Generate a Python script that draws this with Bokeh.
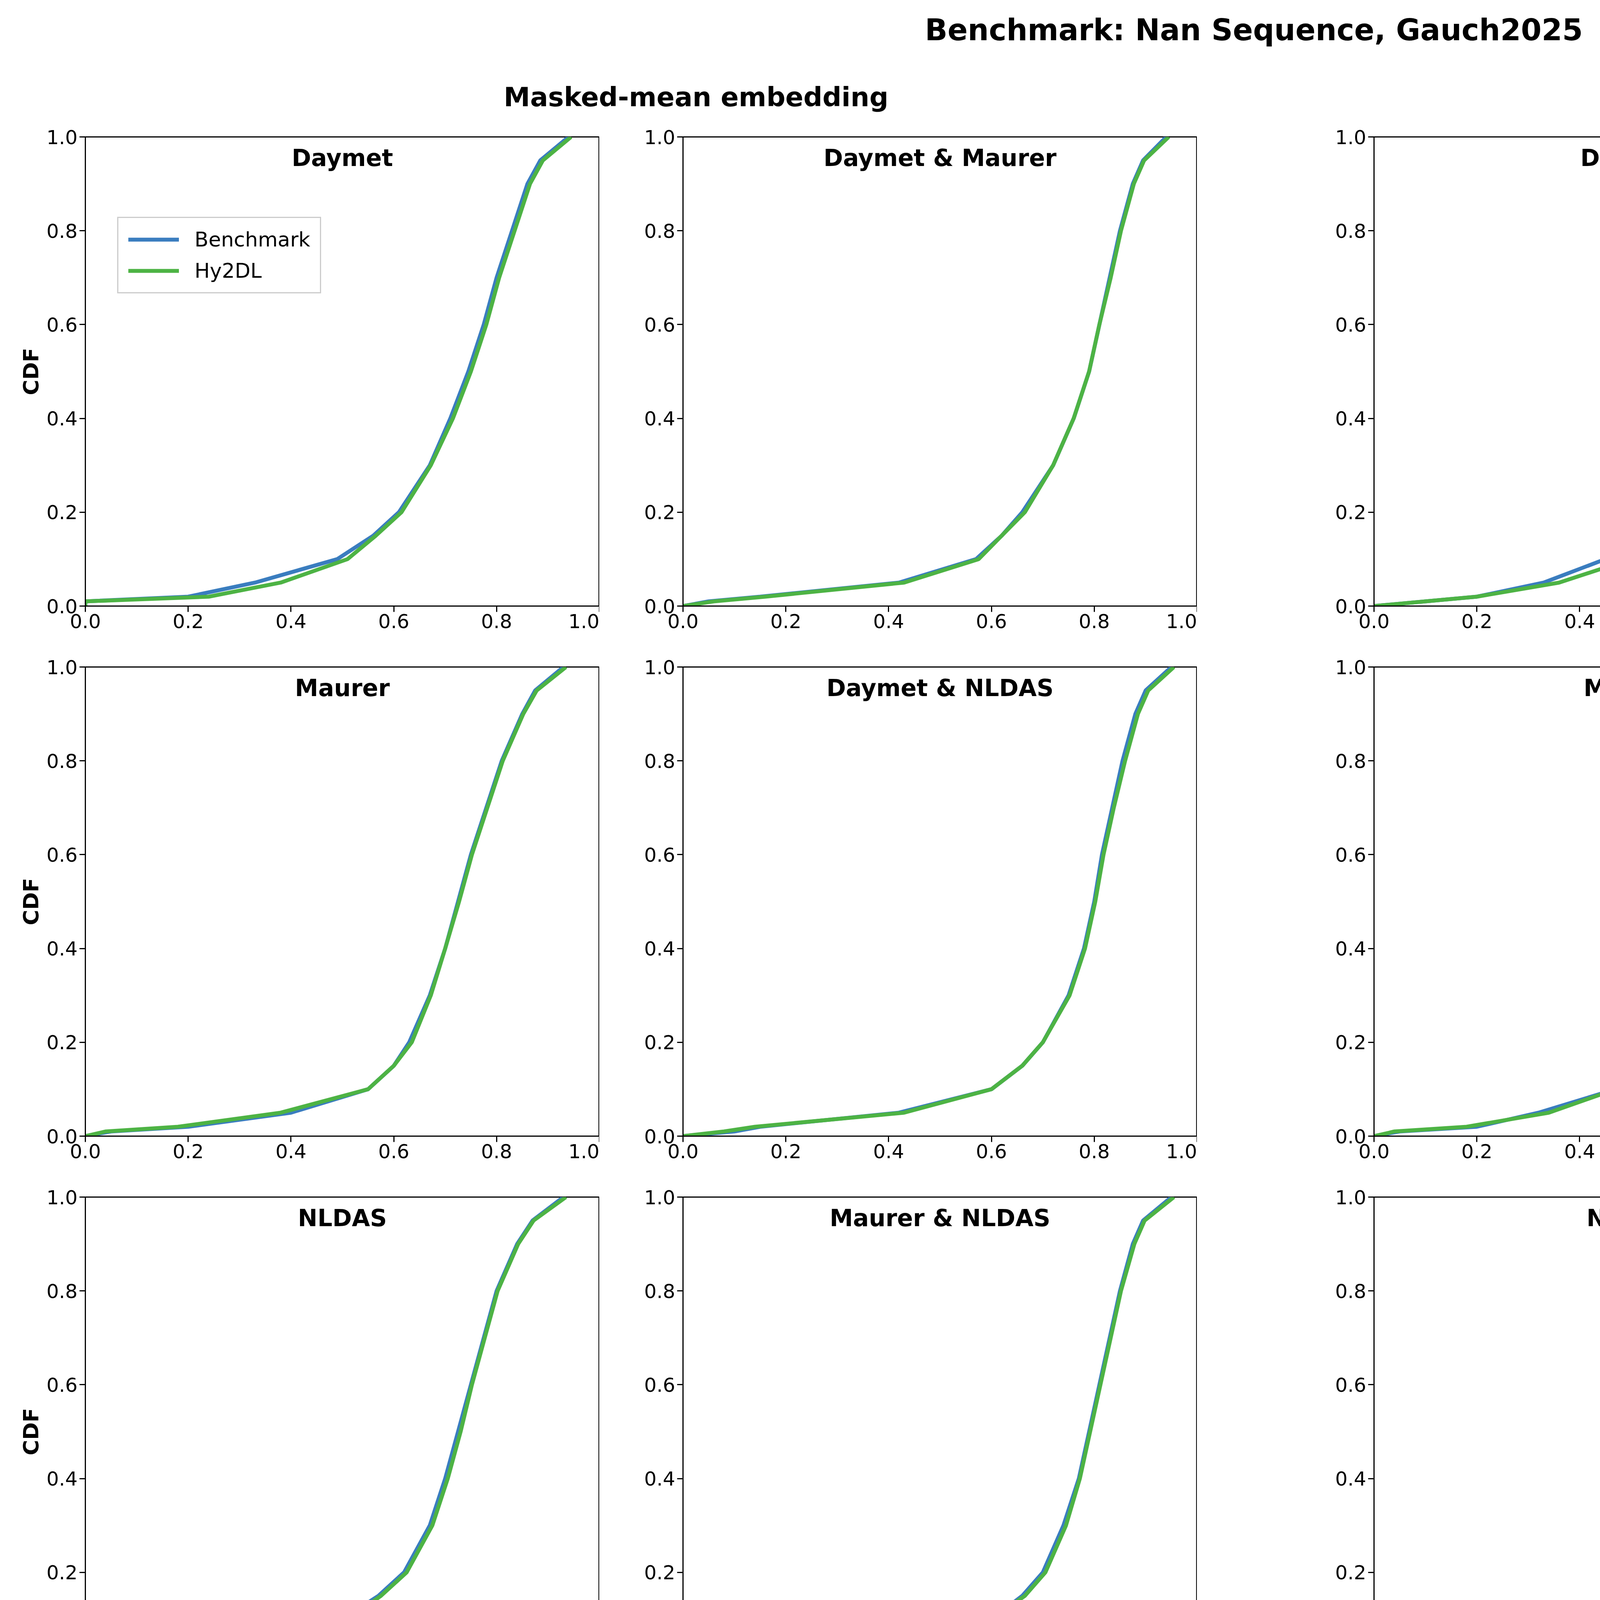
from bokeh.plotting import figure
from bokeh.models import FixedTicker, NumeralTickFormatter, Label, Legend, LegendItem, Div, Range1d
from bokeh.layouts import column, row
from bokeh.embed import file_html
from bokeh.resources import INLINE

# CDF levels shared by all curves, NSE quantiles
cdf = [0.0, 0.01, 0.02, 0.05, 0.1, 0.15, 0.2, 0.3, 0.4, 0.5, 0.6, 0.7, 0.8, 0.9, 0.95, 1.0]

mm_daymet_bench = [0.0, 0.0, 0.2, 0.33, 0.49, 0.56, 0.61, 0.67, 0.71, 0.745, 0.775, 0.80, 0.83, 0.86, 0.885, 0.94]
mm_daymet_hy2dl = [0.0, 0.0, 0.24, 0.38, 0.51, 0.565, 0.615, 0.672, 0.715, 0.75, 0.78, 0.805, 0.835, 0.865, 0.89, 0.945]
mm_dm_bench = [0.0, 0.05, 0.15, 0.42, 0.57, 0.62, 0.66, 0.72, 0.76, 0.79, 0.81, 0.83, 0.85, 0.875, 0.895, 0.94]
mm_dm_hy2dl = [0.0, 0.06, 0.16, 0.43, 0.575, 0.62, 0.665, 0.72, 0.76, 0.79, 0.81, 0.832, 0.852, 0.877, 0.897, 0.945]
mm_maurer_bench = [0.0, 0.05, 0.2, 0.4, 0.55, 0.6, 0.63, 0.67, 0.70, 0.725, 0.75, 0.78, 0.81, 0.85, 0.875, 0.93]
mm_maurer_hy2dl = [0.0, 0.04, 0.18, 0.38, 0.55, 0.6, 0.635, 0.672, 0.70, 0.727, 0.752, 0.782, 0.812, 0.852, 0.878, 0.935]
mm_dn_bench = [0.0, 0.1, 0.15, 0.42, 0.6, 0.66, 0.7, 0.75, 0.78, 0.80, 0.815, 0.835, 0.855, 0.88, 0.90, 0.95]
mm_dn_hy2dl = [0.0, 0.08, 0.14, 0.43, 0.6, 0.66, 0.7, 0.752, 0.782, 0.802, 0.818, 0.838, 0.86, 0.885, 0.905, 0.955]
mm_nldas_bench = [0.0, 0.08, 0.2, 0.37, 0.5, 0.57, 0.62, 0.67, 0.70, 0.725, 0.75, 0.775, 0.80, 0.84, 0.87, 0.93]
mm_nldas_hy2dl = [0.0, 0.07, 0.19, 0.36, 0.51, 0.575, 0.625, 0.675, 0.705, 0.73, 0.752, 0.777, 0.802, 0.842, 0.872, 0.935]
mm_mn_bench = [0.0, 0.1, 0.22, 0.45, 0.6, 0.66, 0.70, 0.74, 0.77, 0.79, 0.81, 0.83, 0.85, 0.875, 0.895, 0.95]
mm_mn_hy2dl = [0.0, 0.09, 0.21, 0.44, 0.6, 0.665, 0.705, 0.745, 0.772, 0.792, 0.812, 0.832, 0.852, 0.878, 0.898, 0.955]

ir_daymet_bench = [0.0, 0.1, 0.2, 0.33, 0.45, 0.55, 0.60, 0.66, 0.69, 0.71, 0.73, 0.755, 0.78, 0.82, 0.85, 0.93]
ir_daymet_hy2dl = [0.0, 0.1, 0.2, 0.36, 0.5, 0.57, 0.615, 0.67, 0.70, 0.72, 0.74, 0.762, 0.785, 0.825, 0.855, 0.94]
ir_dm_bench = [0.0, 0.1, 0.2, 0.4, 0.58, 0.65, 0.69, 0.74, 0.77, 0.79, 0.81, 0.83, 0.855, 0.88, 0.90, 0.95]
ir_dm_hy2dl = [0.0, 0.12, 0.2, 0.41, 0.57, 0.645, 0.69, 0.742, 0.772, 0.792, 0.812, 0.832, 0.857, 0.882, 0.902, 0.955]
ir_maurer_bench = [0.0, 0.05, 0.2, 0.32, 0.47, 0.55, 0.60, 0.65, 0.68, 0.705, 0.73, 0.755, 0.78, 0.82, 0.855, 0.93]
ir_maurer_hy2dl = [0.0, 0.04, 0.18, 0.34, 0.47, 0.54, 0.595, 0.648, 0.68, 0.707, 0.732, 0.757, 0.783, 0.823, 0.857, 0.935]
ir_dn_bench = [0.0, 0.1, 0.25, 0.45, 0.6, 0.66, 0.70, 0.74, 0.765, 0.785, 0.80, 0.82, 0.84, 0.87, 0.89, 0.95]
ir_dn_hy2dl = [0.0, 0.08, 0.24, 0.44, 0.6, 0.66, 0.70, 0.742, 0.767, 0.787, 0.802, 0.822, 0.842, 0.872, 0.892, 0.955]
ir_nldas_bench = [0.0, 0.05, 0.2, 0.35, 0.5, 0.57, 0.61, 0.66, 0.69, 0.71, 0.73, 0.75, 0.78, 0.82, 0.85, 0.93]
ir_nldas_hy2dl = [0.0, 0.04, 0.19, 0.34, 0.5, 0.57, 0.61, 0.662, 0.69, 0.712, 0.732, 0.752, 0.782, 0.825, 0.855, 0.935]
ir_mn_bench = [0.0, 0.08, 0.25, 0.42, 0.57, 0.63, 0.66, 0.71, 0.74, 0.76, 0.78, 0.80, 0.83, 0.86, 0.885, 0.95]
ir_mn_hy2dl = [0.0, 0.06, 0.24, 0.42, 0.56, 0.62, 0.655, 0.708, 0.74, 0.762, 0.782, 0.802, 0.832, 0.862, 0.887, 0.955]

panels = [
    [("Daymet", mm_daymet_bench, mm_daymet_hy2dl), ("Daymet & Maurer", mm_dm_bench, mm_dm_hy2dl),
     ("Daymet", ir_daymet_bench, ir_daymet_hy2dl), ("Daymet & Maurer", ir_dm_bench, ir_dm_hy2dl)],
    [("Maurer", mm_maurer_bench, mm_maurer_hy2dl), ("Daymet & NLDAS", mm_dn_bench, mm_dn_hy2dl),
     ("Maurer", ir_maurer_bench, ir_maurer_hy2dl), ("Daymet & NLDAS", ir_dn_bench, ir_dn_hy2dl)],
    [("NLDAS", mm_nldas_bench, mm_nldas_hy2dl), ("Maurer & NLDAS", mm_mn_bench, mm_mn_hy2dl),
     ("NLDAS", ir_nldas_bench, ir_nldas_hy2dl), ("Maurer & NLDAS", ir_mn_bench, ir_mn_hy2dl)],
]

BLUE = "#3a7dbf"
GREEN = "#4db344"
FONT = "DejaVu Sans"
FW, FH = 1316, 1201
lefts = [218, 214, 453, 214]

rows = []
for r, prow in enumerate(panels):
    figs = []
    for c, (name, bench, hy) in enumerate(prow):
        last = r == 2
        p = figure(frame_width=FW, frame_height=FH, output_backend="svg", toolbar_location=None,
                   x_range=Range1d(0, 1), y_range=Range1d(0, 1),
                   min_border_left=lefts[c], min_border_right=(60 if c == 3 else 0),
                   min_border_top=20, min_border_bottom=(190 if last else 136))
        p.xgrid.visible = False
        p.ygrid.visible = False
        p.outline_line_color = "black"
        p.outline_line_width = 3
        for ax in (p.xaxis[0], p.yaxis[0]):
            ax.ticker = FixedTicker(ticks=[0, 0.2, 0.4, 0.6, 0.8, 1.0])
            ax.formatter = NumeralTickFormatter(format="0.0")
            ax.major_label_text_font = FONT
            ax.major_label_text_font_size = "50px"
            ax.major_label_text_color = "black"
            ax.major_tick_out = 15
            ax.major_tick_in = 0
            ax.major_tick_line_width = 3
            ax.minor_tick_out = 0
            ax.minor_tick_in = 0
            ax.axis_line_width = 3
            ax.axis_label_text_font = FONT
            ax.axis_label_text_font_size = "54px"
            ax.axis_label_text_font_style = "bold"
            ax.axis_label_text_color = "black"
        if c == 0:
            p.yaxis.axis_label = "CDF"
        if last:
            p.xaxis.axis_label = "NSE"
        lb = p.line(bench, cdf, line_color=BLUE, line_width=10)
        lh = p.line(hy, cdf, line_color=GREEN, line_width=10)
        p.add_layout(Label(x=0.5, y=0.985, text=name, text_align="center", text_baseline="top",
                           text_font=FONT, text_font_size="60px", text_font_style="bold",
                           text_color="black"))
        if r == 0 and c == 0:
            leg = Legend(items=[LegendItem(label="Benchmark", renderers=[lb]),
                                LegendItem(label="Hy2DL", renderers=[lh])],
                         location=(82, 800), label_text_font=FONT, label_text_font_size="52px",
                         label_text_color="black",
                         glyph_width=130, glyph_height=50, label_height=60, spacing=20,
                         padding=25, border_line_color="#cccccc", border_line_width=3,
                         border_line_alpha=1.0, label_standoff=40)
            p.add_layout(leg)
        figs.append(p)
    rows.append(row(*figs, spacing=0))

header = Div(width=6430, height=320, text="""
<div style="position:relative;width:6430px;height:320px;font-family:'DejaVu Sans';font-weight:bold;color:black">
<div style="position:absolute;left:0;width:6410px;top:18px;text-align:center;font-size:76px">Benchmark: Nan Sequence, Gauch2025</div>
<div style="position:absolute;left:777px;width:2000px;top:195px;text-align:center;font-size:68px">Masked-mean embedding</div>
<div style="position:absolute;left:3942px;width:2000px;top:195px;text-align:center;font-size:68px">Input Replacement</div>
</div>""")

p = column(header, *rows, spacing=0)
open("out.html", "w").write(file_html(p, INLINE))
